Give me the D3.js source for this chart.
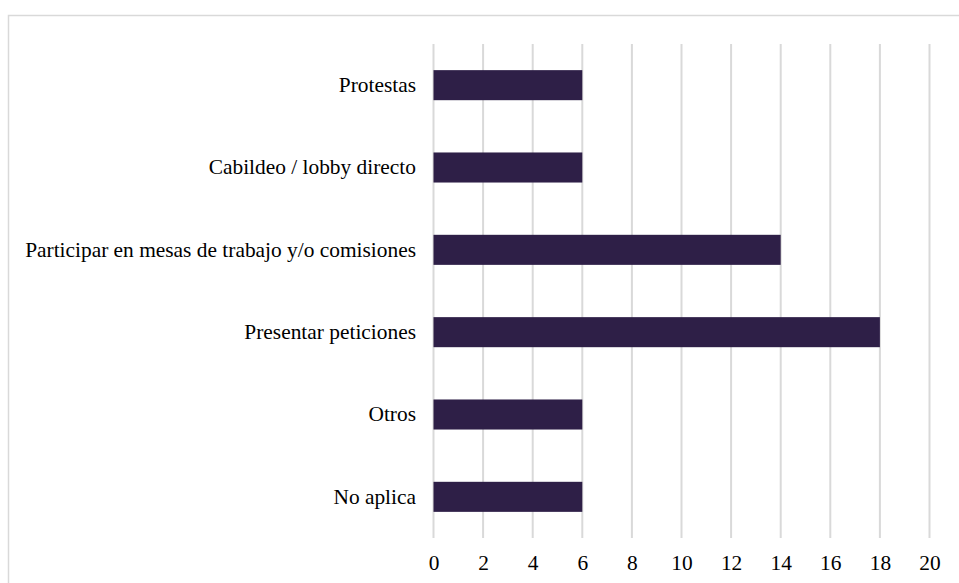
<!DOCTYPE html>
<html><head><meta charset="utf-8">
<script src="https://cdn.jsdelivr.net/npm/d3@7"></script>
<style>body{margin:0;background:#fff}svg{display:block}</style>
</head><body>
<script>
const categories = ["Protestas","Cabildeo / lobby directo","Participar en mesas de trabajo y/o comisiones","Presentar peticiones","Otros","No aplica"];
const values = [6,6,14,18,6,6];
const tickValues = [0,2,4,6,8,10,12,14,16,18,20];

const W=959,H=583;
const FONT="Liberation Serif";
const svg=d3.select("body").append("svg").attr("width",W).attr("height",H);
svg.append("rect").attr("x",8.5).attr("y",15.5).attr("width",W).attr("height",H)
  .attr("fill","#fff").attr("stroke","#d9d9d9").attr("stroke-width",1.5);

const x=d3.scaleLinear().domain([0,20]).range([433.5,929.5]);
const y=d3.scaleBand().domain(categories).range([44,538]).paddingInner(0.635).paddingOuter(0.3175);

const g=svg.append("g");
g.selectAll("line.grid").data(tickValues).join("line").attr("class","grid")
  .attr("x1",d=>x(d)).attr("x2",d=>x(d)).attr("y1",44).attr("y2",538)
  .attr("stroke","#d9d9d9").attr("stroke-width",2);

g.selectAll("rect.bar").data(values).join("rect").attr("class","bar")
  .attr("x",x(0)).attr("y",(d,i)=>y(categories[i]))
  .attr("width",d=>x(d)-x(0)).attr("height",y.bandwidth())
  .attr("fill","#2e1f47");

const xAxis=d3.axisBottom(x).tickValues(tickValues).tickSize(0).tickPadding(0);
const ax=svg.append("g").attr("transform","translate(0,555)").call(xAxis)
  .attr("font-family",FONT).attr("font-size",21.4);
ax.select(".domain").remove();
ax.selectAll("text").attr("fill","#000");

const yAxis=d3.axisLeft(y).tickSize(0).tickPadding(0);
const ay=svg.append("g").attr("transform","translate(416,0)").call(yAxis)
  .attr("font-family",FONT).attr("font-size",21.4);
ay.select(".domain").remove();
ay.selectAll("text").attr("fill","#000");
</script>
</body></html>
